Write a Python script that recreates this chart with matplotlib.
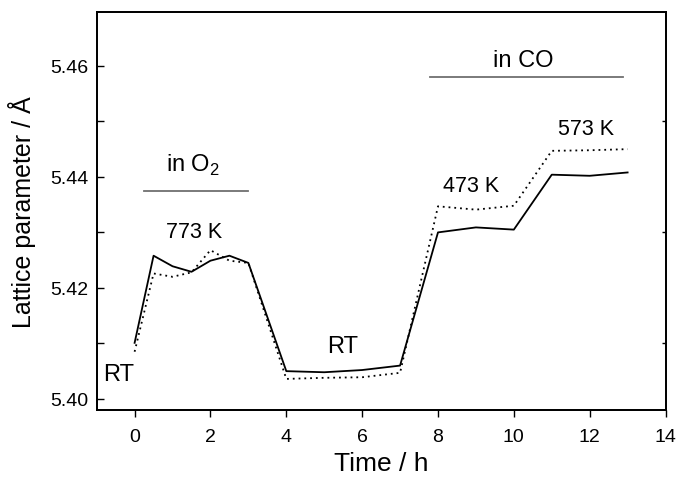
import matplotlib
matplotlib.use("Agg")
import matplotlib.pyplot as plt
from matplotlib.ticker import MultipleLocator, FormatStrFormatter

plt.rcParams['font.family'] = ['Liberation Sans', 'DejaVu Sans']

# Data
time_h = [0, 0.5, 1, 1.5, 2, 2.5, 3, 4, 5, 6, 7, 8, 9, 10, 11, 12, 13]
lattice_solid = [5.4101, 5.4258, 5.4239, 5.4229, 5.4249, 5.4258, 5.4245,
                 5.4050, 5.4048, 5.4052, 5.4060,
                 5.4300, 5.4309, 5.4305, 5.4404, 5.4402, 5.4408]
lattice_dotted = [5.4085, 5.4226, 5.4220, 5.4228, 5.4268, 5.4249, 5.4245,
                  5.4036, 5.4038, 5.4039, 5.4047,
                  5.4347, 5.4341, 5.4348, 5.4447, 5.4448, 5.4450]

fig = plt.figure(figsize=(6.78, 4.85), dpi=100)
ax = fig.add_axes([0.1426, 0.1526, 0.8390, 0.8216])

ax.plot(time_h, lattice_solid, color="black", lw=1.3, ls="-")
ax.plot(time_h, lattice_dotted, color="black", lw=1.3, ls=(0, (1, 2.2)))

# gas treatment bars
ax.plot([0.24, 2.99], [5.4374, 5.4374], color="#707070", lw=1.3)
ax.plot([7.8, 12.88], [5.4580, 5.4580], color="#707070", lw=1.3)

ax.text(1.53, 5.4423, "in O$_\\mathregular{2}$", fontsize=17, ha="center", va="center")
ax.text(1.56, 5.4301, "773 K", fontsize=15.5, ha="center", va="center")
ax.text(10.26, 5.4610, "in CO", fontsize=17, ha="center", va="center")
ax.text(8.86, 5.4384, "473 K", fontsize=15.5, ha="center", va="center")
ax.text(11.9, 5.4488, "573 K", fontsize=15.5, ha="center", va="center")
ax.text(-0.42, 5.4045, "RT", fontsize=17, ha="center", va="center")
ax.text(5.48, 5.4095, "RT", fontsize=17, ha="center", va="center")

ax.set_xlim(-1, 14)
ax.set_ylim(5.398, 5.4698)
ax.xaxis.set_major_locator(MultipleLocator(2))
ax.yaxis.set_major_locator(MultipleLocator(0.02))
ax.yaxis.set_minor_locator(MultipleLocator(0.01))
ax.yaxis.set_major_formatter(FormatStrFormatter("%.2f"))

ax.tick_params(axis="x", direction="out", length=5, width=1, labelsize=14, pad=8, top=False)
ax.tick_params(axis="y", which="both", direction="in", length=5, width=1, labelsize=14, pad=6,
               right=False)

# right side: short minor ticks only
axr = ax.twinx()
axr.set_ylim(ax.get_ylim())
axr.yaxis.set_major_locator(MultipleLocator(0.02))
axr.yaxis.set_minor_locator(MultipleLocator(0.01))
axr.tick_params(axis="y", which="major", length=0, labelright=False)
axr.tick_params(axis="y", which="minor", direction="in", length=3, width=1)

for a in (ax, axr):
    for s in a.spines.values():
        s.set_linewidth(1.3)

ax.set_xlabel("Time / h", fontsize=19, labelpad=4)
ax.set_ylabel("Lattice parameter / Å", fontsize=18, labelpad=10)

fig.savefig("out.png", dpi=100)
